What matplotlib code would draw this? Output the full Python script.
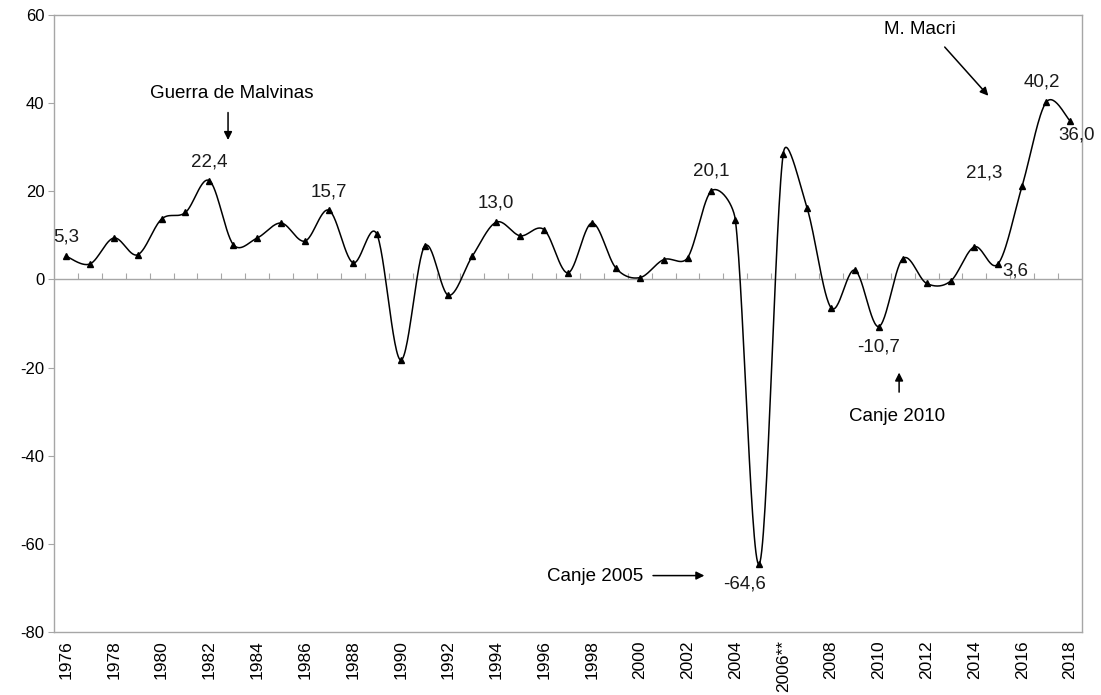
import matplotlib.pyplot as plt
import numpy as np

plt.rcParams['font.family'] = ['Liberation Sans', 'DejaVu Sans']
plt.rcParams['axes.unicode_minus'] = False

# datos
years = list(range(1976, 2019))
values = [5.3, 3.5, 9.4, 5.6, 13.7, 15.2, 22.4, 7.9, 9.4, 12.8,
          8.7, 15.7, 3.8, 10.3, -18.3, 7.5, -3.6, 5.3, 13.0, 9.9,
          11.3, 1.5, 12.8, 2.6, 0.4, 4.5, 4.9, 20.1, 13.5, -64.6,
          28.4, 16.2, -6.4, 2.1, -10.7, 4.7, -0.9, -0.4, 7.4, 3.6,
          21.3, 40.2, 36.0]
tick_years = list(range(1976, 2019, 2))
tick_labels = [str(y) if y != 2006 else '2006**' for y in tick_years]

# etiquetas de valores (año, texto, desplazamiento en px)
labels = [(1976, '5,3', 0, 19), (1982, '22,4', 0, 19), (1987, '15,7', 0, 18),
          (1994, '13,0', 0, 19), (2003, '20,1', 0, 20), (2005, '-64,6', -15, -20),
          (2010, '-10,7', 0, -20), (2015, '3,6', 17, -7), (2016, '21,3', -38, 13),
          (2017, '40,2', -4, 20), (2018, '36,0', 7, -14)]

fig = plt.figure(figsize=(11.01, 6.95), dpi=100)
ax = fig.add_axes([54/1101, 63/695, 1028/1101, 617/695])
ax.set_xlim(1975.5, 2018.5)
ax.set_ylim(-80, 60)


def smooth(x, y, k=0.45, n=30):
    # Catmull-Rom en pixeles, con control limitado por el largo del tramo
    P = ax.transData.transform(np.column_stack([x, y]))
    m = len(P)
    T = np.array([(P[min(i + 1, m - 1)] - P[max(i - 1, 0)]) / 6 for i in range(m)])
    t = np.linspace(0, 1, n)[:, None]
    pts = []
    for i in range(m - 1):
        L = np.hypot(*(P[i + 1] - P[i]))
        d1, d2 = T[i].copy(), T[i + 1].copy()
        for d in (d1, d2):
            ln = np.hypot(*d)
            if ln > k * L:
                d *= k * L / ln
        b0, b3 = P[i], P[i + 1]
        b1, b2 = b0 + d1, b3 - d2
        pts.append((1-t)**3*b0 + 3*(1-t)**2*t*b1 + 3*(1-t)*t**2*b2 + t**3*b3)
    pts = np.vstack(pts)
    return ax.transData.inverted().transform(pts).T


grey = '#a6a6a6'
sx, sy = smooth(years, values)
ax.plot(sx, sy, color='black', lw=1.1)
ax.plot(years, values, linestyle='none', marker='^', color='black', markersize=5)

ax.set_yticks(range(-80, 61, 20))
ax.tick_params(axis='y', direction='out', length=4, color=grey, labelsize=12, pad=3)
ax.set_xticks(tick_years)
ax.set_xticklabels(tick_labels, rotation=90, fontsize=12.5)
ax.tick_params(axis='x', length=0, pad=6)
for s in ax.spines.values():
    s.set_color(grey)
    s.set_linewidth(1.0)

# eje en cero con marcas entre categorias
zax = ax.secondary_xaxis(80/140)
zax.set_xticks(np.arange(1976.5, 2018, 1))
zax.tick_params(axis='x', direction='out', length=4, color=grey, labelbottom=False,
                labeltop=False)
zax.spines['bottom'].set_color(grey)
zax.spines['top'].set_visible(False)
ax.axhline(0, color=grey, lw=1.0, zorder=0)

vals = dict(zip(years, values))
for yr, txt, dx, dy in labels:
    ax.annotate(txt, (yr, vals[yr]), xytext=(dx, dy), textcoords='offset pixels',
                ha='center', va='center', fontsize=13.5, color='#1a1a1a')

arrow = dict(arrowstyle='-|>', color='black', lw=1.1, mutation_scale=12)
ax.text(1982.95, 42.3, 'Guerra de Malvinas', ha='center', va='center', fontsize=13.5)
ax.annotate('', xy=(1982.78, 31), xytext=(1982.78, 38.5), arrowprops=arrow)
ax.text(2011.73, 56.8, 'M. Macri', ha='center', va='center', fontsize=13.5)
ax.annotate('', xy=(2014.66, 41.2), xytext=(2012.68, 53.2), arrowprops=arrow)
ax.text(2010.77, -31.2, 'Canje 2010', ha='center', va='center', fontsize=13.5)
ax.annotate('', xy=(2010.85, -20.5), xytext=(2010.85, -26.2), arrowprops=arrow)
ax.text(1998.13, -67.5, 'Canje 2005', ha='center', va='center', fontsize=13.5)
ax.annotate('', xy=(2002.82, -67.2), xytext=(2000.44, -67.2), arrowprops=arrow)

fig.savefig('out.png', dpi=100)
